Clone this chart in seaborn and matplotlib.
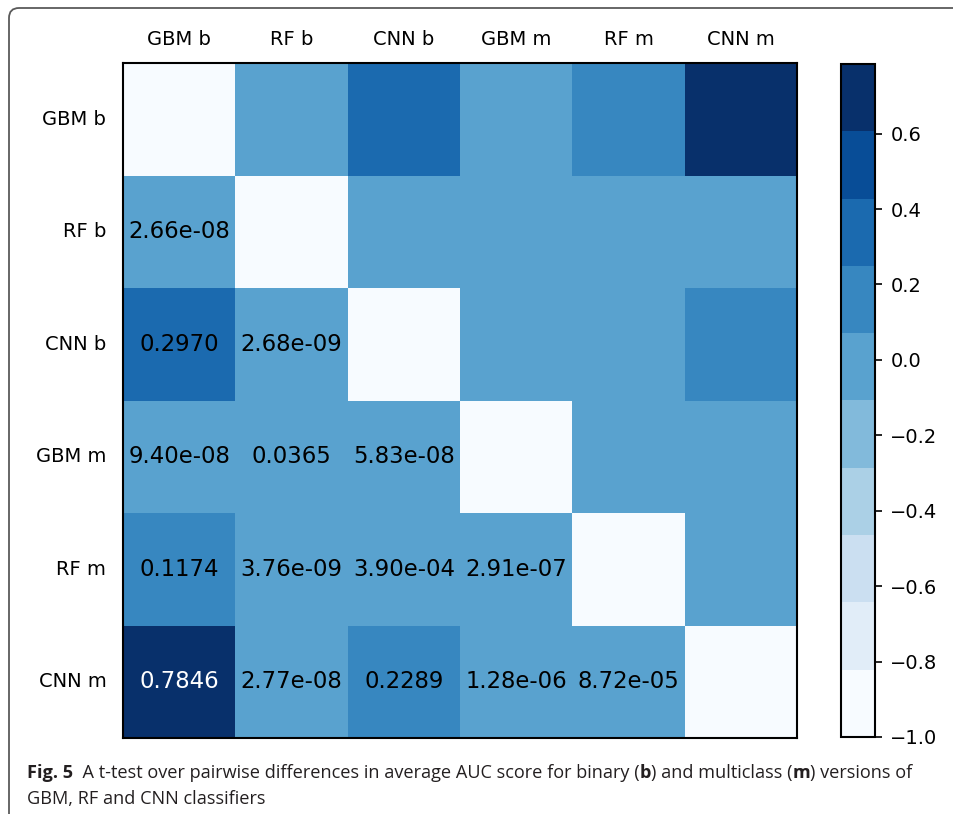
import numpy as np
import pandas as pd
import matplotlib as mpl
mpl.use("Agg")
import matplotlib.pyplot as plt
import seaborn as sns
from matplotlib.patches import FancyBboxPatch
from matplotlib.transforms import IdentityTransform

# Classifiers (binary "b" and multiclass "m" versions)
models = ["GBM b", "RF b", "CNN b", "GBM m", "RF m", "CNN m"]

# Lower-triangle p-values of the pairwise t-tests, one list per row
row_gbm_b = []
row_rf_b = [2.66e-08]
row_cnn_b = [0.2970, 2.68e-09]
row_gbm_m = [9.40e-08, 0.0365, 5.83e-08]
row_rf_m = [0.1174, 3.76e-09, 3.90e-04, 2.91e-07]
row_cnn_m = [0.7846, 2.77e-08, 0.2289, 1.28e-06, 8.72e-05]
diag_value = -1.0

cbar_ticks = [-1.0, -0.8, -0.6, -0.4, -0.2, 0.0, 0.2, 0.4, 0.6]

rows = [row_gbm_b, row_rf_b, row_cnn_b, row_gbm_m, row_rf_m, row_cnn_m]
n = len(models)
mat = np.full((n, n), diag_value)
for i, row in enumerate(rows):
    for j, v in enumerate(row):
        mat[i, j] = v
        mat[j, i] = v
df = pd.DataFrame(mat, index=models, columns=models)

sns.set_theme(style="white")
plt.rcParams["font.family"] = ["DejaVu Sans"]
plt.rcParams["axes.unicode_minus"] = True

W, H = 954, 814
fig = plt.figure(figsize=(W / 100, H / 100), dpi=100)
ax = fig.add_axes([123 / W, 1 - 738 / H, (797 - 123) / W, (738 - 63) / H])
cax = fig.add_axes([841 / W, 1 - 737 / H, (875 - 841) / W, (737 - 64) / H])

cmap = mpl.colormaps["Blues"].resampled(10)
sns.heatmap(df, ax=ax, cbar_ax=cax, cmap=cmap,
            vmin=mat.min(), vmax=mat.max(), linewidths=0)


def fmt(v):
    return f"{v:.2e}" if v < 0.01 else f"{v:.4f}"


for i, row in enumerate(rows):
    for j, v in enumerate(row):
        ax.text(j + 0.5, i + 0.5, fmt(v), ha="center", va="center",
                fontsize=16.4, color="white" if v > 0.6 else "black")

ax.set_xlabel("")
ax.set_ylabel("")
ax.xaxis.tick_top()
ax.tick_params(axis="both", length=0, labelsize=14, colors="black")
ax.tick_params(axis="x", pad=10, labelrotation=0)
ax.tick_params(axis="y", pad=12, labelrotation=0)
for s in ax.spines.values():
    s.set_visible(True)
    s.set_color("black")
    s.set_linewidth(1.5)

cbar = ax.collections[0].colorbar
cbar.set_ticks(cbar_ticks)
cbar.outline.set_visible(True)
cbar.outline.set_edgecolor("black")
cbar.outline.set_linewidth(1.5)
cax.tick_params(axis="y", right=True, length=5, width=1.2, color="black",
                labelsize=14, labelcolor="black", pad=6, direction="out")

# Rounded panel frame (top and left edges visible)
frame = FancyBboxPatch((9, -60), 1200, (H - 8) + 60,
                       boxstyle="round,pad=0,rounding_size=10",
                       transform=IdentityTransform(), fill=False,
                       edgecolor="#5a5a5a", linewidth=1.3)
fig.add_artist(frame)

# Caption with mixed bold/regular runs
renderer = fig.canvas.get_renderer()
cap_font = ["Open Sans", "DejaVu Sans"]
cap_size = 13.1
cap_color = "#231f20"


def text_width(s, weight):
    t1 = fig.text(0, 0, s + "|", fontsize=cap_size, family=cap_font, weight=weight)
    t2 = fig.text(0, 0, "|", fontsize=cap_size, family=cap_font, weight=weight)
    w = t1.get_window_extent(renderer).width - t2.get_window_extent(renderer).width
    t1.remove()
    t2.remove()
    return w


def place_runs(x_px, y_px, runs):
    x = x_px
    for s, weight in runs:
        fig.text(x / W, 1 - y_px / H, s, fontsize=cap_size, family=cap_font,
                 weight=weight, color=cap_color, va="baseline", ha="left")
        x += text_width(s, weight)


place_runs(27, 778, [
    ("Fig. 5", "bold"),
    ("  A t-test over pairwise differences in average AUC score for binary (", "normal"),
    ("b", "bold"),
    (") and multiclass (", "normal"),
    ("m", "bold"),
    (") versions of", "normal"),
])
place_runs(27, 804, [("GBM, RF and CNN classifiers", "normal")])

fig.savefig("out.png", dpi=100)
